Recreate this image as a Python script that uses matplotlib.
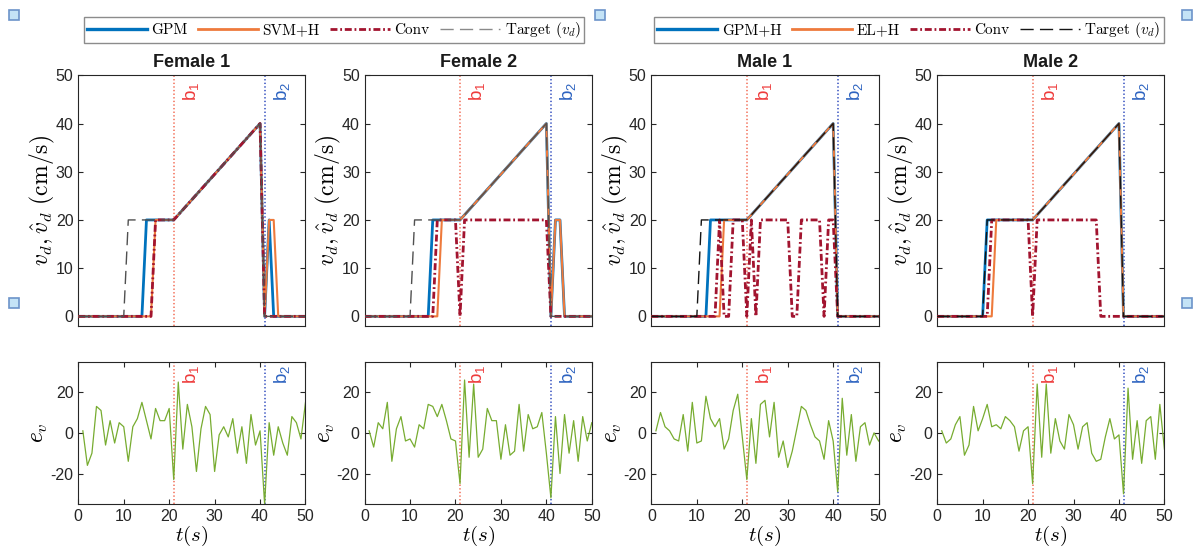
import matplotlib
matplotlib.use("Agg")
import matplotlib.pyplot as plt
from matplotlib.lines import Line2D
from matplotlib.patches import Rectangle

plt.rcParams["font.family"] = ["Liberation Sans", "DejaVu Sans"]
plt.rcParams["mathtext.fontset"] = "cm"
plt.rcParams["axes.unicode_minus"] = False
plt.rcParams["lines.scale_dashes"] = False

# ---------------- data ----------------
panel_titles = ["Female 1", "Female 2", "Male 1", "Male 2"]
b1_time = 21
b2_time = 41

# target speed profile (breakpoints)
target_t = [0, 10, 11, 21, 40, 41, 50]
target_v = [0, 0, 20, 20, 40, 0, 0]

# GPM (female) / GPM+H (male) estimates
est1_t = [
    [0, 14, 15, 21, 40, 41, 42, 43, 50],
    [0, 14, 15, 21, 40, 41, 42, 43, 44, 50],
    [0, 12, 13, 21, 40, 41, 50],
    [0, 10, 11, 21, 40, 41, 50],
]
est1_v = [
    [0, 0, 20, 20, 40, 0, 20, 0, 0],
    [0, 0, 20, 20, 40, 0, 20, 20, 0, 0],
    [0, 0, 20, 20, 40, 0, 0],
    [0, 0, 20, 20, 40, 0, 0],
]

# SVM+H (female) / EL+H (male) estimates
est2_t = [
    [0, 16, 17, 21, 40, 41, 42, 43, 44, 50],
    [0, 16, 17, 21, 40, 41, 42, 43, 44, 50],
    [0, 15, 16, 21, 40, 41, 50],
    [0, 12, 13, 21, 40, 41, 50],
]
est2_v = [
    [0, 0, 20, 20, 40, 0, 20, 20, 0, 0],
    [0, 0, 20, 20, 40, 0, 20, 20, 0, 0],
    [0, 0, 20, 20, 40, 0, 0],
    [0, 0, 20, 20, 40, 0, 0],
]

# conventional controller
conv_t = [
    [0, 16, 17, 21, 40, 41, 50],
    [0, 15, 16, 20, 21, 22, 40, 41, 50],
    [0, 14, 15, 16, 17, 18, 20, 21, 22, 23, 24, 30, 31, 32, 33, 37, 38, 39, 40, 41, 50],
    [0, 11, 12, 20, 21, 22, 35, 36, 50],
]
conv_v = [
    [0, 0, 20, 20, 40, 0, 0],
    [0, 0, 20, 20, 0, 20, 20, 0, 0],
    [0, 0, 20, 0, 0, 20, 20, 0, 20, 0, 20, 20, 0, 0, 20, 20, 0, 20, 20, 0, 0],
    [0, 0, 20, 20, 0, 20, 20, 0, 0],
]

# speed error e_v, sampled once per second
ev_t = list(range(1, 51))
ev_female1 = [1, -16, -10, 13, 11, -6, 6, -5, 5, 3, -14, 3, 7, 15, 6, -3, 12, 6, 6, 12,
              -23, 25, -8, 14, 3, -19, 2, 13, 9, -19, -1, 3, -2, 7, -10, 3, -15, 9, -6, 1,
              -35, 5, -11, 3, -5, -11, 8, 5, -3, 15]
ev_female2 = [1, -7, 5, 2, 15, -14, 2, 8, -4, -3, -7, 4, 2, 14, 13, 8, 14, 6, -3, -4,
              -25, 26, -12, 24, -12, -8, 12, 6, 6, -13, 4, -11, -9, 14, -9, 9, 2, 3, 10, -10,
              -32, 8, -20, 9, -10, 6, -14, 8, -4, 5]
ev_male1 = [1, 10, 3, 1, -3, -4, 9, -9, 15, -5, -4, 18, 7, 3, 7, -8, -3, 11, 19, -2,
            -23, 7, -15, 14, 16, -2, 15, -12, -4, -17, -9, 2, 13, 11, 4, -2, -4, -13, 6, -4,
            -29, 17, -11, 9, -14, 3, 5, -6, 0, -4]
ev_male2 = [1, -5, -3, 4, 8, -11, -6, 13, 1, 7, 14, 3, 4, 2, 8, 6, 3, -9, 1, 3,
            -25, 24, -12, 24, -10, 7, -4, -8, 9, 4, -8, 3, 5, -10, -14, -13, -2, 7, -3, -1,
            -30, 22, -13, 6, -15, 6, 8, -13, 14, -8]
ev_all = [ev_female1, ev_female2, ev_male1, ev_male2]

legend_left = ["GPM", "SVM+H", "Conv", r"Target ($v_d$)"]
legend_right = ["GPM+H", "EL+H", "Conv", r"Target ($v_d$)"]

# ---------------- style ----------------
C_EST1 = "#0072BD"
C_EST2 = "#EE7A3C"
C_CONV = "#A2142F"
C_TARGET = ["#505050", "#505050", "#151515", "#151515"]
C_TARGET_LEG = ["#8a8a8a", "#151515"]
C_EV = "#77AC30"
C_B1_LINE, C_B1_TEXT = "#F58A78", "#EE3B3B"
C_B2_LINE, C_B2_TEXT = "#5C72CC", "#2D63C0"
AX_COL = "#262626"
CONV_DASH = (5.0, 2.0, 1.3, 2.0)
TARGET_DASH = (9.5, 4.5)
DOT = (0, (1.0, 1.6))

W, H = 1193, 551
fig = plt.figure(figsize=(W / 100, H / 100), dpi=100)


def px_axes(x0, y0, x1, y1):
    return fig.add_axes([x0 / W, 1 - y1 / H, (x1 - x0) / W, (y1 - y0) / H])


def style_axes(ax):
    for sp in ax.spines.values():
        sp.set_color(AX_COL)
        sp.set_linewidth(0.8)
    ax.tick_params(direction="in", length=3.5, width=0.8, colors=AX_COL,
                   top=True, right=True, labelsize=11.5)


def b_labels(ax, y):
    ax.text(b1_time + 1.6, y, r"$\mathregular{b_1}$", rotation=90, color=C_B1_TEXT,
            ha="left", va="top", fontsize=13.5)
    ax.text(b2_time + 1.6, y, r"$\mathregular{b_2}$", rotation=90, color=C_B2_TEXT,
            ha="left", va="top", fontsize=13.5)


left_edges = [78.3, 364.6, 651.4, 937.2]
pw = 227.2
top_y = (75.3, 326.0)
bot_y = (361.7, 504.0)

for i in range(4):
    x0 = left_edges[i]
    # ---- speed panel ----
    ax = px_axes(x0, top_y[0], x0 + pw, top_y[1])
    style_axes(ax)
    ax.axvline(b1_time, color=C_B1_LINE, ls=DOT, lw=1.4, zorder=1)
    ax.axvline(b2_time, color=C_B2_LINE, ls=DOT, lw=1.4, zorder=1)
    ax.plot(est1_t[i], est1_v[i], color=C_EST1, lw=2.0, zorder=2)
    ax.plot(est2_t[i], est2_v[i], color=C_EST2, lw=1.5, zorder=3)
    ax.plot(conv_t[i], conv_v[i], color=C_CONV, lw=2.0, dashes=CONV_DASH, zorder=4)
    ax.plot(target_t, target_v, color=C_TARGET[i], lw=1.0, dashes=TARGET_DASH, zorder=5)
    ax.set_xlim(0, 50)
    ax.set_ylim(-2, 50)
    ax.set_xticks([])
    ax.set_yticks([0, 10, 20, 30, 40, 50])
    ax.set_title(panel_titles[i], fontsize=13, fontweight="bold", pad=6, color="#1a1a1a")
    ax.set_ylabel(r"$v_d, \hat{v}_d\ (\mathrm{cm/s})$", fontsize=17, labelpad=-1)
    b_labels(ax, 48.6)

    # ---- error panel ----
    ax2 = px_axes(x0, bot_y[0], x0 + pw, bot_y[1])
    style_axes(ax2)
    ax2.axvline(b1_time, color=C_B1_LINE, ls=DOT, lw=1.4, zorder=1)
    ax2.axvline(b2_time, color=C_B2_LINE, ls=DOT, lw=1.4, zorder=1)
    ax2.plot(ev_t, ev_all[i], color=C_EV, lw=0.9, zorder=2)
    ax2.set_xlim(0, 50)
    ax2.set_ylim(-35, 35)
    ax2.set_xticks([0, 10, 20, 30, 40, 50])
    ax2.set_yticks([-20, 0, 20])
    ax2.set_ylabel(r"$e_v$", fontsize=17, labelpad=0)
    ax2.set_xlabel(r"$t(s)$", fontsize=15, labelpad=0)
    b_labels(ax2, 33.5)


def legend_handles(target_color):
    return [
        Line2D([], [], color=C_EST1, lw=2.4),
        Line2D([], [], color=C_EST2, lw=2.0),
        Line2D([], [], color=C_CONV, lw=2.0, dashes=CONV_DASH),
        Line2D([], [], color=target_color, lw=1.0, dashes=TARGET_DASH),
    ]


for labels, tcol, cx in ((legend_left, C_TARGET_LEG[0], 334.0),
                         (legend_right, C_TARGET_LEG[1], 909.0)):
    leg = fig.legend(legend_handles(tcol), labels, ncol=4, loc="center",
                     bbox_to_anchor=(cx / W, 1 - 30.0 / H), frameon=True, fancybox=False,
                     framealpha=1, edgecolor="#8c8c8c", handlelength=3.9,
                     handletextpad=0.3, columnspacing=0.7, borderpad=0.2,
                     prop={"family": "cmr10", "size": 11})
    leg.get_frame().set_linewidth(1.0)

# small square handles around the figure frame
for cx, cy in ((14, 15), (600, 15), (1187, 15), (14, 303), (1187, 303)):
    fig.add_artist(Rectangle(((cx - 5) / W, 1 - (cy + 5) / H), 10 / W, 10 / H,
                             transform=fig.transFigure, facecolor="#C4E3F6",
                             edgecolor="#6C93C9", lw=1.2))

fig.savefig("out.png", dpi=100, facecolor="white")
